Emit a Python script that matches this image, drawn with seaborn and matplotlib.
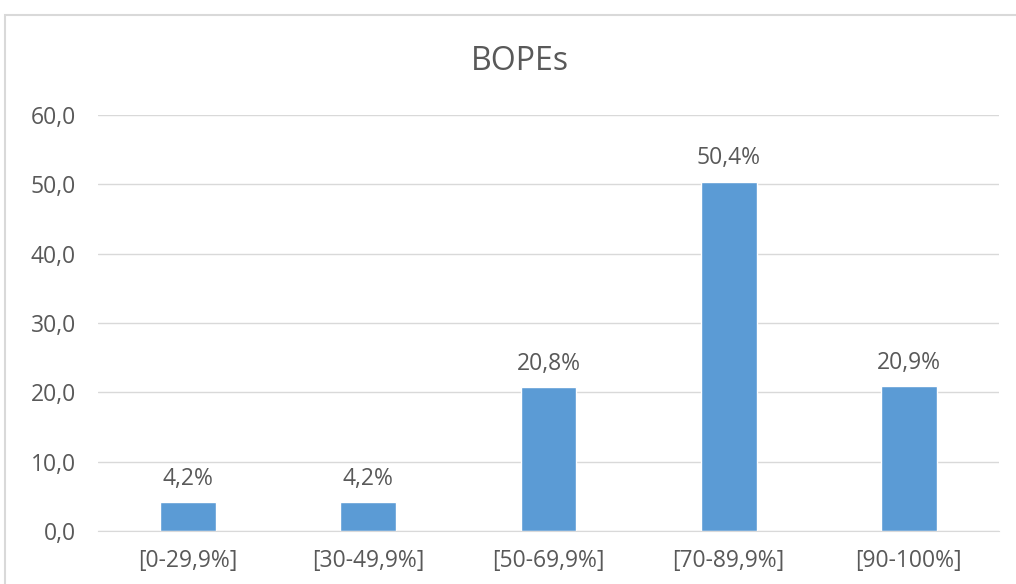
import matplotlib
matplotlib.use("Agg")
import matplotlib.pyplot as plt
import seaborn as sns
import pandas as pd
from matplotlib.patches import Rectangle

faixas = ["[0-29,9%]", "[30-49,9%]", "[50-69,9%]", "[70-89,9%]", "[90-100%]"]
percentuais = [4.2, 4.2, 20.8, 50.4, 20.9]
rotulos = ["4,2%", "4,2%", "20,8%", "50,4%", "20,9%"]
yticks = [0, 10, 20, 30, 40, 50, 60]

sns.set_style("white")
plt.rcParams['font.family'] = ['Open Sans', 'DejaVu Sans']

cinza = "#595959"
fig = plt.figure(figsize=(10.16, 5.84), dpi=100)
fig.patches.append(Rectangle((5 / 1016, -0.1), 1.2, 1 - 15 / 584 + 0.1,
                             transform=fig.transFigure, fill=False,
                             edgecolor="#d9d9d9", linewidth=1.5))
ax = fig.add_axes([98 / 1016, 53 / 584, 901 / 1016, 416 / 584])

df = pd.DataFrame({"faixa": faixas, "valor": percentuais})
sns.barplot(data=df, x="faixa", y="valor", color="#5b9bd5", width=0.31,
            saturation=1, ax=ax)

for i, (v, r) in enumerate(zip(percentuais, rotulos)):
    ax.annotate(r, (i, v), xytext=(0, 8), textcoords="offset points",
                ha="center", va="bottom", fontsize=16.5, color=cinza)

ax.set_ylim(0, 60)
ax.set_xlim(-0.5, 4.5)
ax.set_yticks(yticks)
ax.set_yticklabels([f"{t:.1f}".replace(".", ",") for t in yticks])
ax.yaxis.grid(True, color="#d9d9d9", linewidth=1)
ax.set_axisbelow(True)
for s in ["top", "right", "left"]:
    ax.spines[s].set_visible(False)
ax.spines["bottom"].set_color("#d9d9d9")
ax.tick_params(axis="both", length=0, labelsize=16.5, labelcolor=cinza)
ax.tick_params(axis="y", pad=16)
ax.tick_params(axis="x", pad=13)
ax.set_xlabel("")
ax.set_ylabel("")
fig.text(520 / 1016, 1 - 62 / 584, "BOPEs", ha="center", va="center",
         fontsize=23, color=cinza)

fig.savefig("out.png", dpi=100)
